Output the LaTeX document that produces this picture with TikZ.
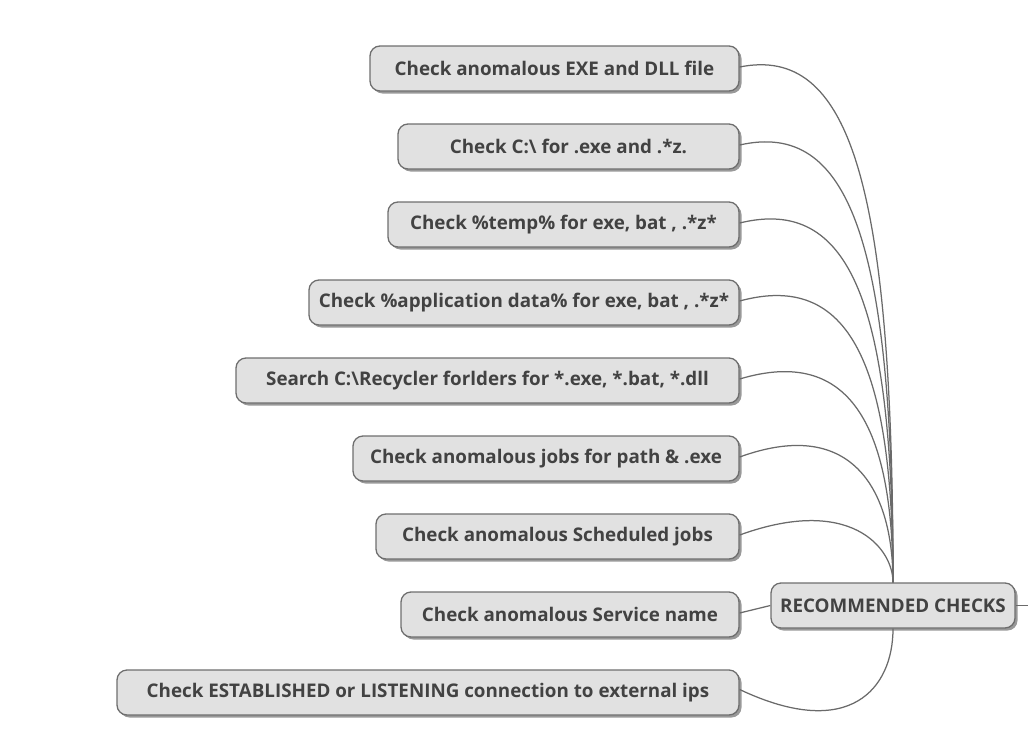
\documentclass[tikz,border=0pt]{standalone}
\usepackage{fontspec}
\setmainfont{Open Sans}
\usetikzlibrary{shadows}
\definecolor{boxfill}{HTML}{E1E1E1}
\definecolor{boxdraw}{HTML}{6E6E6E}
\definecolor{txt}{HTML}{424242}
\definecolor{edge}{HTML}{6A6A6A}
\begin{document}
\begin{tikzpicture}[x=1pt,y=-1pt,
  box/.style={draw=boxdraw, line width=1.3pt, fill=boxfill, rounded corners=10pt,
    minimum height=45pt, inner sep=0pt, text=txt,
    font=\fontsize{18.8}{22}\selectfont\bfseries,
    drop shadow={shadow xshift=2.5pt, shadow yshift=-2.5pt, opacity=0.4, fill=black}},
  link/.style={draw=edge, line width=1.25pt}]
\useasboundingbox (0,0) rectangle (1028,755);

\node[box, minimum width=369pt] (c1) at (554.5,68.5) {Check anomalous EXE and DLL file};
\node[box, minimum width=341pt] (c2) at (568.5,146.5) {Check C:\textbackslash{} for .exe and .*z.};
\node[box, minimum width=351pt] (c3) at (563.5,224.5) {Check \%temp\% for exe, bat , .*z*};
\node[box, minimum width=430pt] (c4) at (524,302.5) {Check \%application data\% for exe, bat , .*z*};
\node[box, minimum width=503pt] (c5) at (487.5,380.5) {Search C:\textbackslash Recycler forlders for *.exe, *.bat, *.dll};
\node[box, minimum width=386pt] (c6) at (546,458.5) {Check anomalous jobs for path \& .exe};
\node[box, minimum width=363pt] (c7) at (557.5,536.5) {Check anomalous Scheduled jobs};
\node[box, minimum width=338pt] (c8) at (570,614.5) {Check anomalous Service name};
\node[box, minimum width=622pt] (c9) at (428,692.5) {Check ESTABLISHED or LISTENING connection to external ips};
\node[box, minimum width=244pt] (root) at (893,605.5) {RECOMMENDED CHECKS};
\coordinate (out) at (1028,605.5);

\draw[link] ([yshift=1.5pt]c1.east) .. controls +(110,-22) and +(0,-400) .. (root.north);
\draw[link] ([yshift=1.5pt]c2.east) .. controls +(110,-25) and +(0,-340) .. (root.north);
\draw[link] ([yshift=1.5pt]c3.east) .. controls +(110,-27) and +(0,-280) .. (root.north);
\draw[link] ([yshift=1.5pt]c4.east) .. controls +(110,-30) and +(0,-218) .. (root.north);
\draw[link] ([yshift=1.5pt]c5.east) .. controls +(110,-33) and +(0,-157) .. (root.north);
\draw[link] ([yshift=1.5pt]c6.east) .. controls +(110,-40) and +(0,-96) .. (root.north);
\draw[link] ([yshift=1.5pt]c7.east) .. controls +(110,-40) and +(0,-35) .. (root.north);
\draw[link] ([yshift=1.5pt]c8.east) -- (root.west);
\draw[link] ([yshift=3pt]c9.east) .. controls +(110,52) and +(0,60) .. (root.south);
\draw[link] (root.east) -- (out);
\end{tikzpicture}
\end{document}
